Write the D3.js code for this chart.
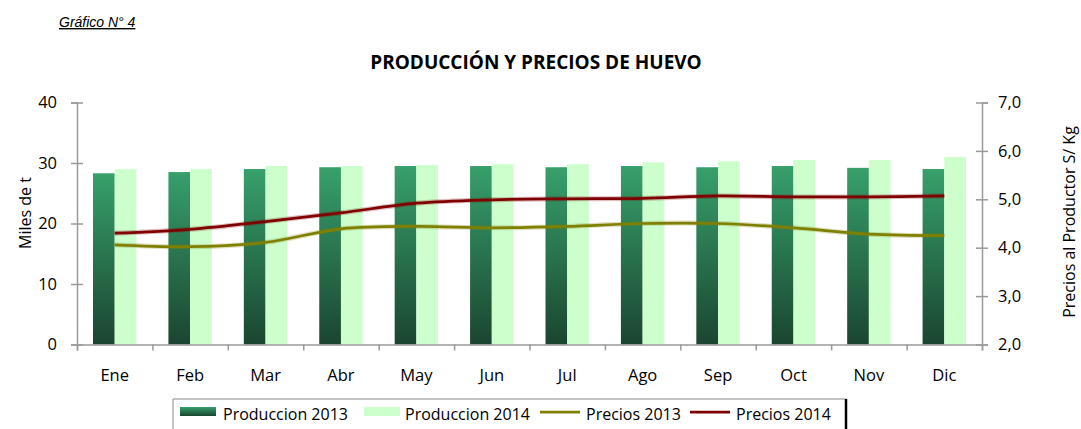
<!DOCTYPE html>
<html>
<head>
<meta charset="utf-8">
<script src="https://cdn.jsdelivr.net/npm/d3@7"></script>
<style>
  body { margin: 0; background: #fff; }
  text { font-family: "Open Sans", sans-serif; fill: #000; }
</style>
</head>
<body>
<svg id="chart" width="1081" height="429"></svg>
<script>
const width = 1081;
const height = 429;

const months = ["Ene", "Feb", "Mar", "Abr", "May", "Jun", "Jul", "Ago", "Sep", "Oct", "Nov", "Dic"];
const prod2013 = [28.3, 28.5, 29.0, 29.3, 29.5, 29.5, 29.3, 29.5, 29.3, 29.5, 29.2, 29.0];
const prod2014 = [29.0, 29.0, 29.5, 29.5, 29.65, 29.8, 29.8, 30.1, 30.3, 30.5, 30.5, 31.0];
const precios2013 = [4.06, 4.02, 4.11, 4.39, 4.44, 4.41, 4.44, 4.50, 4.50, 4.41, 4.28, 4.25];
const precios2014 = [4.30, 4.38, 4.54, 4.72, 4.92, 4.99, 5.01, 5.02, 5.07, 5.05, 5.05, 5.07];
const leftTicks = [0, 10, 20, 30, 40];
const rightTicks = [2, 3, 4, 5, 6, 7];

const margin = { top: 102.5, right: 99, bottom: 84, left: 77 };
const x0 = margin.left, x1 = width - margin.right;
const yTop = margin.top, yBot = height - margin.bottom - 0.5;

const svg = d3.select("#chart");

// Scales
const x = d3.scaleBand().domain(months).range([x0, x1]);
const xs = d3.scaleBand().domain(["2013", "2014"]).range([16, x.bandwidth() - 16]);
const xEdge = d3.scaleLinear().domain([0, 12]).range([x0, x1]);
const yL = d3.scaleLinear().domain([0, 40]).range([yBot, yTop]);
const yR = d3.scaleLinear().domain([2, 7]).range([yBot, yTop]);

// Gradient for 2013 bars
const defs = svg.append("defs");
const grad = defs.append("linearGradient")
    .attr("id", "g2013")
    .attr("x1", 0).attr("y1", 0).attr("x2", 0).attr("y2", 1);
grad.append("stop").attr("offset", "0%").attr("stop-color", "#37a06b");
grad.append("stop").attr("offset", "100%").attr("stop-color", "#1a4530");

// Captions
svg.append("text")
    .attr("x", 59).attr("y", 27)
    .style("font-family", "'Liberation Sans', Arial, sans-serif")
    .style("font-style", "italic")
    .style("font-size", "14px")
    .style("text-decoration", "underline")
    .text("Gráfico N° 4");

svg.append("text")
    .attr("x", 536).attr("y", 69)
    .attr("text-anchor", "middle")
    .style("font-weight", "bold")
    .style("font-size", "19px")
    .text("PRODUCCIÓN Y PRECIOS DE HUEVO");

// Bars
const series = [
    { key: "2013", values: prod2013, fill: "url(#g2013)" },
    { key: "2014", values: prod2014, fill: "#ccffcc" }
];

series.forEach(s => {
    svg.append("g").selectAll("rect")
        .data(months)
        .join("rect")
        .attr("x", (m) => x(m) + xs(s.key))
        .attr("width", xs.bandwidth())
        .attr("y", (m, i) => yL(s.values[i]))
        .attr("height", (m, i) => yBot - yL(s.values[i]))
        .attr("fill", s.fill);
});

// Axes
const axisColor = "#9a9a9a";

const gL = svg.append("g")
    .attr("transform", `translate(${x0},0)`)
    .call(d3.axisLeft(yL).tickValues(leftTicks).tickSize(6).tickPadding(14));
gL.selectAll(".tick line").attr("x1", -6).attr("x2", 6);

const gR = svg.append("g")
    .attr("transform", `translate(${x1},0)`)
    .call(d3.axisRight(yR).tickValues(rightTicks).tickSize(6).tickPadding(10)
        .tickFormat(d => d3.format(".1f")(d).replace(".", ",")));
gR.selectAll(".tick line").attr("x1", -6).attr("x2", 6);

const gX = svg.append("g")
    .attr("transform", `translate(0,${yBot})`)
    .call(d3.axisBottom(xEdge).ticks(12).tickSize(6).tickFormat(""));

const gXL = svg.append("g")
    .attr("transform", `translate(0,${yBot})`)
    .call(d3.axisBottom(x).tickSize(0).tickPadding(25));
gXL.select(".domain").remove();

[gL, gR, gX].forEach(g => {
    g.selectAll(".domain").attr("stroke", axisColor).attr("stroke-width", 1.5);
    g.selectAll(".tick line").attr("stroke", axisColor).attr("stroke-width", 1.5);
});
[gL, gR, gXL].forEach(g => {
    g.selectAll("text")
        .style("font-family", "'Open Sans', sans-serif")
        .style("font-size", "16.5px")
        .attr("fill", "#000");
});

// Lines
const line = (yScale) => d3.line()
    .x((d, i) => x(months[i]) + x.bandwidth() / 2)
    .y(d => yScale(d))
    .curve(d3.curveCatmullRom.alpha(0.5));

const lines = [
    { values: precios2013, color: "#808000" },
    { values: precios2014, color: "#800000" }
];
lines.forEach(l => {
    svg.append("path")
        .datum(l.values)
        .attr("fill", "none")
        .attr("stroke", l.color)
        .attr("stroke-opacity", 0.25)
        .attr("stroke-width", 5)
        .attr("d", line(yR));
    svg.append("path")
        .datum(l.values)
        .attr("fill", "none")
        .attr("stroke", l.color)
        .attr("stroke-width", 2.75)
        .attr("d", line(yR));
});

// Axis titles
svg.append("text")
    .attr("transform", "translate(31,213) rotate(-90)")
    .attr("text-anchor", "middle")
    .style("font-size", "16px")
    .text("Miles de t");

svg.append("text")
    .attr("transform", "translate(1075,222) rotate(-90)")
    .attr("text-anchor", "middle")
    .style("font-size", "16px")
    .text("Precios al Productor S/ Kg");

// Legend
const legend = svg.append("g");
legend.append("path")
    .attr("d", "M173,440 V399 H846")
    .attr("fill", "none")
    .attr("stroke", "#8a8a8a")
    .attr("stroke-width", 1);
legend.append("line")
    .attr("x1", 846).attr("x2", 846).attr("y1", 399).attr("y2", 429)
    .attr("stroke", "#000").attr("stroke-width", 2.5);

const legendItems = [
    { label: "Produccion 2013", type: "rect", fill: "url(#g2013)", sx: 180, tx: 223 },
    { label: "Produccion 2014", type: "rect", fill: "#ccffcc", sx: 364, tx: 405 },
    { label: "Precios 2013", type: "line", fill: "#808000", sx: 540, tx: 586 },
    { label: "Precios 2014", type: "line", fill: "#800000", sx: 690, tx: 736 }
];
legendItems.forEach(it => {
    if (it.type === "rect") {
        legend.append("rect")
            .attr("x", it.sx).attr("y", 407).attr("width", 36).attr("height", 9)
            .attr("fill", it.fill);
    } else {
        legend.append("line")
            .attr("x1", it.sx).attr("x2", it.sx + 40).attr("y1", 412).attr("y2", 412)
            .attr("stroke", it.fill).attr("stroke-width", 2.75);
    }
    legend.append("text")
        .attr("x", it.tx).attr("y", 420)
        .style("font-size", "16px")
        .text(it.label);
});
</script>
</body>
</html>
